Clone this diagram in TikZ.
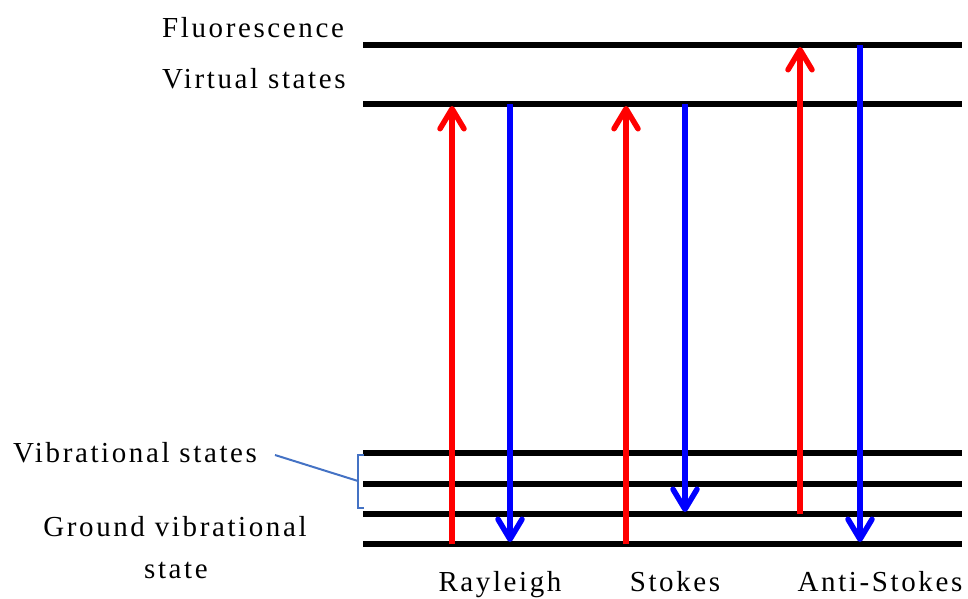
\documentclass[tikz,border=0pt]{standalone}
\usepackage{fontspec}
\setmainfont{Liberation Serif}[LetterSpace=9]
\usetikzlibrary{arrows.meta}
\definecolor{uparrow}{RGB}{255,0,0}
\definecolor{downarrow}{RGB}{0,0,255}
\definecolor{bracketblue}{RGB}{68,114,196}
\begin{document}
\begin{tikzpicture}[x=1pt,y=-1pt,
  level/.style={line width=6pt},
  label/.style={font=\fontsize{29}{42}\selectfont, inner sep=0pt},
  transition/.style={line width=5.5pt,
    -{Straight Barb[length=20pt,width=24pt,round]}, shorten >=1pt},
  excite/.style={transition, uparrow},
  emit/.style={transition, downarrow},
  bracket/.style={bracketblue, line width=2pt}]
\useasboundingbox (0,0) rectangle (968,598);

% energy levels
\foreach \name/\y in {fl/45, vs/104, v3/453, v2/484, v1/514, g/544}{
  \coordinate (\name-L) at (363,\y);
  \coordinate (\name-R) at (962,\y);
  \draw[level] (\name-L) -- (\name-R);
}

% arrow end points on the levels
\coordinate (ray-up-a) at (452,544);
\coordinate (ray-up-b) at (452,105);
\coordinate (ray-dn-a) at (510,104);
\coordinate (ray-dn-b) at (510,543);
\coordinate (sto-up-a) at (626,544);
\coordinate (sto-up-b) at (626,105);
\coordinate (sto-dn-a) at (685,104);
\coordinate (sto-dn-b) at (685,513);
\coordinate (ant-up-a) at (800,514);
\coordinate (ant-up-b) at (800,46);
\coordinate (ant-dn-a) at (860,45);
\coordinate (ant-dn-b) at (860,543);

% Rayleigh
\draw[excite] (ray-up-a) -- (ray-up-b);
\draw[emit] (ray-dn-a) -- (ray-dn-b);
% Stokes
\draw[excite] (sto-up-a) -- (sto-up-b);
\draw[emit] (sto-dn-a) -- (sto-dn-b);
% Anti-Stokes
\draw[excite] (ant-up-a) -- (ant-up-b);
\draw[emit] (ant-dn-a) -- (ant-dn-b);

% labels
\node[label, anchor=base west] (tFl) at (162,37) {Fluorescence};
\node[label, anchor=base west] (tVs) at (162,88) {Virtual states};
\node[label, anchor=base west] (tVib) at (13,462) {Vibrational states};
\node[label, anchor=base] (tGnd) at (175,536) {Ground vibrational};
\node[label, anchor=base] (tGnd2) at (176,578) {state};
\node[label, anchor=base] (tRay) at (500,591) {Rayleigh};
\node[label, anchor=base] (tSto) at (675,591) {Stokes};
\node[label, anchor=base] (tAnt) at (880,591) {Anti-Stokes};

% bracket for the vibrational levels
\coordinate (brT) at (358,455);
\coordinate (brB) at (358,508);
\coordinate (brM) at (358,481);
\coordinate (lead) at (275,455);
\draw[bracket] (364,455) -- (brT) -- (brB) -- (364,508);
\draw[bracket] (lead) -- (brM);
\end{tikzpicture}
\end{document}
